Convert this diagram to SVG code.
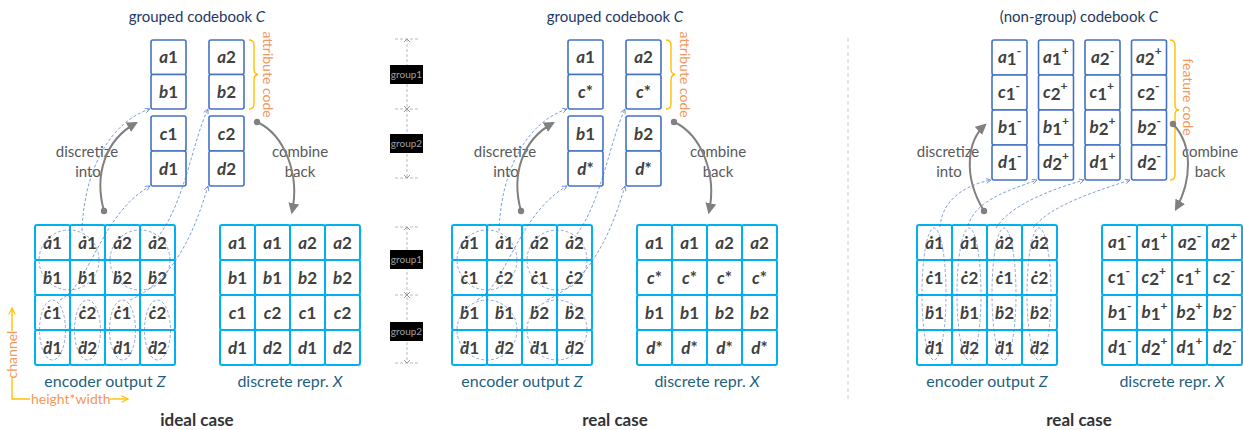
<svg xmlns="http://www.w3.org/2000/svg" width="1243" height="430" viewBox="0 0 1243 430">
<style>
text{font-family:Lato,"Liberation Sans",sans-serif}
.cb{fill:#fff;stroke:#4472C4;stroke-width:1.6}
.gc{fill:#fff;stroke:#00B0F0;stroke-width:2}
.l{font-weight:bold;font-size:17px;fill:#404040;text-anchor:middle}
.ls{font-weight:bold;font-size:17px;fill:#404040}
.s{font-size:12px}
.it{font-style:italic}
.title{font-size:15px;fill:#1F3864;text-anchor:middle}
.cap{font-size:16px;fill:#1F5F7F;text-anchor:middle}
.case{font-size:17px;font-weight:bold;fill:#333;text-anchor:middle}
.gray{font-size:15px;fill:#595959;text-anchor:middle}
.or{font-size:14px;fill:#F4975A;text-anchor:middle}
.orl{font-size:14px;fill:#F4975A}
.conn{fill:none;stroke:#4472C4;stroke-width:0.8;stroke-dasharray:3 2;opacity:0.85}
.ell{fill:none;stroke:#4472C4;stroke-width:0.8;stroke-dasharray:3 2;opacity:0.75}
.arc{fill:none;stroke:#808080;stroke-width:2}
.brace{fill:none;stroke:#FFC000;stroke-width:1.4}
.ax{fill:none;stroke:#FFC000;stroke-width:1.4}
.gl{fill:none;stroke:#BBBBBB;stroke-width:1;stroke-dasharray:3 2}
.gm{fill:none;stroke:#999;stroke-width:1}
.gt{font-size:10px;fill:#A0A0A0;text-anchor:middle}
</style>
<defs>
<marker id="oa" viewBox="0 0 10 10" refX="9" refY="5" markerUnits="userSpaceOnUse" markerWidth="6" markerHeight="6" orient="auto"><path d="M1 1 L9 5 L1 9" fill="none" stroke="#4472C4" stroke-width="1.3"/></marker>
<marker id="ga" viewBox="0 0 10 10" refX="8" refY="5" markerUnits="userSpaceOnUse" markerWidth="11" markerHeight="11" orient="auto"><path d="M0 0 L10 5 L0 10 Z" fill="#808080"/></marker>
<marker id="ya" viewBox="0 0 10 10" refX="9" refY="5" markerUnits="userSpaceOnUse" markerWidth="8" markerHeight="8" orient="auto"><path d="M1 1 L9 5 L1 9" fill="none" stroke="#FFC000" stroke-width="1.4"/></marker>
</defs>

<!-- ================= PANEL 1 ================= -->
<g id="p1-title"><text class="title" x="197" y="22">grouped codebook <tspan class="it">C</tspan></text></g>
<g id="p1-codebook">
<rect class="cb" x="151" y="40" width="35" height="34.5" rx="2"/><text class="l" x="168.5" y="63"><tspan class="it">a</tspan>1</text>
<rect class="cb" x="151" y="74.5" width="35" height="34.5" rx="2"/><text class="l" x="168.5" y="97.5"><tspan class="it">b</tspan>1</text>
<rect class="cb" x="151" y="116" width="35" height="35" rx="2"/><text class="l" x="168.5" y="139.5"><tspan class="it">c</tspan>1</text>
<rect class="cb" x="151" y="151" width="35" height="35" rx="2"/><text class="l" x="168.5" y="174.5"><tspan class="it">d</tspan>1</text>
<rect class="cb" x="209" y="40" width="35" height="34.5" rx="2"/><text class="l" x="226.5" y="63"><tspan class="it">a</tspan>2</text>
<rect class="cb" x="209" y="74.5" width="35" height="34.5" rx="2"/><text class="l" x="226.5" y="97.5"><tspan class="it">b</tspan>2</text>
<rect class="cb" x="209" y="116" width="35" height="35" rx="2"/><text class="l" x="226.5" y="139.5"><tspan class="it">c</tspan>2</text>
<rect class="cb" x="209" y="151" width="35" height="35" rx="2"/><text class="l" x="226.5" y="174.5"><tspan class="it">d</tspan>2</text>
</g>
<g id="p1-brace">
<path class="brace" d="M249 40 Q254 40 254 45 L254 69 Q254 74 258 74.5 Q254 75 254 80 L254 104 Q254 109 249 109"/>
<text class="or" transform="translate(263 74.5) rotate(90)">attribute code</text>
</g>
<g id="p1-encoder">
<rect class="gc" x="35" y="225" width="35" height="35" rx="2"/><rect class="gc" x="70" y="225" width="35" height="35" rx="2"/><rect class="gc" x="105" y="225" width="35" height="35" rx="2"/><rect class="gc" x="140" y="225" width="35" height="35" rx="2"/>
<rect class="gc" x="35" y="260" width="35" height="35" rx="2"/><rect class="gc" x="70" y="260" width="35" height="35" rx="2"/><rect class="gc" x="105" y="260" width="35" height="35" rx="2"/><rect class="gc" x="140" y="260" width="35" height="35" rx="2"/>
<rect class="gc" x="35" y="295" width="35" height="35" rx="2"/><rect class="gc" x="70" y="295" width="35" height="35" rx="2"/><rect class="gc" x="105" y="295" width="35" height="35" rx="2"/><rect class="gc" x="140" y="295" width="35" height="35" rx="2"/>
<rect class="gc" x="35" y="330" width="35" height="35" rx="2"/><rect class="gc" x="70" y="330" width="35" height="35" rx="2"/><rect class="gc" x="105" y="330" width="35" height="35" rx="2"/><rect class="gc" x="140" y="330" width="35" height="35" rx="2"/>
<text class="l" x="52.5" y="248.5"><tspan class="it">ȧ</tspan>1</text><text class="l" x="87.5" y="248.5"><tspan class="it">ȧ</tspan>1</text><text class="l" x="122.5" y="248.5"><tspan class="it">ȧ</tspan>2</text><text class="l" x="157.5" y="248.5"><tspan class="it">ȧ</tspan>2</text>
<text class="l" x="52.5" y="283.5"><tspan class="it">ḃ</tspan>1</text><text class="l" x="87.5" y="283.5"><tspan class="it">ḃ</tspan>1</text><text class="l" x="122.5" y="283.5"><tspan class="it">ḃ</tspan>2</text><text class="l" x="157.5" y="283.5"><tspan class="it">ḃ</tspan>2</text>
<text class="l" x="52.5" y="318.5"><tspan class="it">ċ</tspan>1</text><text class="l" x="87.5" y="318.5"><tspan class="it">ċ</tspan>2</text><text class="l" x="122.5" y="318.5"><tspan class="it">ċ</tspan>1</text><text class="l" x="157.5" y="318.5"><tspan class="it">ċ</tspan>2</text>
<text class="l" x="52.5" y="353.5"><tspan class="it">ḋ</tspan>1</text><text class="l" x="87.5" y="353.5"><tspan class="it">ḋ</tspan>2</text><text class="l" x="122.5" y="353.5"><tspan class="it">ḋ</tspan>1</text><text class="l" x="157.5" y="353.5"><tspan class="it">ḋ</tspan>2</text>
<circle class="ell" cx="69" cy="260" r="30"/><circle class="ell" cx="140" cy="260" r="30"/>
<ellipse class="ell" cx="52.5" cy="330" rx="13" ry="30"/><ellipse class="ell" cx="87.5" cy="330" rx="13" ry="30"/><ellipse class="ell" cx="122.5" cy="330" rx="13" ry="30"/><ellipse class="ell" cx="157.5" cy="330" rx="13" ry="30"/>
<text class="cap" x="105" y="387">encoder output <tspan class="it">Z</tspan></text>
</g>
<g id="p1-discrete">
<rect class="gc" x="220" y="225" width="35" height="35" rx="2"/><rect class="gc" x="255" y="225" width="35" height="35" rx="2"/><rect class="gc" x="290" y="225" width="35" height="35" rx="2"/><rect class="gc" x="325" y="225" width="35" height="35" rx="2"/>
<rect class="gc" x="220" y="260" width="35" height="35" rx="2"/><rect class="gc" x="255" y="260" width="35" height="35" rx="2"/><rect class="gc" x="290" y="260" width="35" height="35" rx="2"/><rect class="gc" x="325" y="260" width="35" height="35" rx="2"/>
<rect class="gc" x="220" y="295" width="35" height="35" rx="2"/><rect class="gc" x="255" y="295" width="35" height="35" rx="2"/><rect class="gc" x="290" y="295" width="35" height="35" rx="2"/><rect class="gc" x="325" y="295" width="35" height="35" rx="2"/>
<rect class="gc" x="220" y="330" width="35" height="35" rx="2"/><rect class="gc" x="255" y="330" width="35" height="35" rx="2"/><rect class="gc" x="290" y="330" width="35" height="35" rx="2"/><rect class="gc" x="325" y="330" width="35" height="35" rx="2"/>
<text class="l" x="237.5" y="248.5"><tspan class="it">a</tspan>1</text><text class="l" x="272.5" y="248.5"><tspan class="it">a</tspan>1</text><text class="l" x="307.5" y="248.5"><tspan class="it">a</tspan>2</text><text class="l" x="342.5" y="248.5"><tspan class="it">a</tspan>2</text>
<text class="l" x="237.5" y="283.5"><tspan class="it">b</tspan>1</text><text class="l" x="272.5" y="283.5"><tspan class="it">b</tspan>1</text><text class="l" x="307.5" y="283.5"><tspan class="it">b</tspan>2</text><text class="l" x="342.5" y="283.5"><tspan class="it">b</tspan>2</text>
<text class="l" x="237.5" y="318.5"><tspan class="it">c</tspan>1</text><text class="l" x="272.5" y="318.5"><tspan class="it">c</tspan>2</text><text class="l" x="307.5" y="318.5"><tspan class="it">c</tspan>1</text><text class="l" x="342.5" y="318.5"><tspan class="it">c</tspan>2</text>
<text class="l" x="237.5" y="353.5"><tspan class="it">d</tspan>1</text><text class="l" x="272.5" y="353.5"><tspan class="it">d</tspan>2</text><text class="l" x="307.5" y="353.5"><tspan class="it">d</tspan>1</text><text class="l" x="342.5" y="353.5"><tspan class="it">d</tspan>2</text>
<text class="cap" x="290" y="387">discrete repr. <tspan class="it">X</tspan></text>
</g>
<g id="p1-labels">
<text class="gray" x="87" y="157">discretize</text><text class="gray" x="88" y="177">into</text>
<text class="gray" x="300" y="157">combine</text><text class="gray" x="300" y="177">back</text>
<text class="case" x="197" y="426">ideal case</text>
</g>
<g id="axes">
<path class="ax" d="M12 378 L12 399 L30 399"/>
<path class="ax" d="M12 331 L12 308" marker-end="url(#ya)"/>
<path class="ax" d="M110 399 L128 399" marker-end="url(#ya)"/>
<text class="orl" text-anchor="middle" transform="translate(17 354.5) rotate(-90)">channel</text>
<text class="orl" x="31" y="404">height*width</text>
</g>

<!-- ================= MIDDLE GROUP INDICATOR ================= -->
<g id="group-indicator">
<path class="gl" d="M407 39 L407 178 M395 39 L419 39 M395 109 L419 109 M395 178 L419 178"/>
<path class="gm" d="M404 42 L407 39 L410 42 M404 106 L410 112 M410 106 L404 112 M404 175 L407 178 L410 175"/>
<rect x="390" y="65" width="33" height="19" fill="#000"/><text class="gt" x="406.5" y="78">group1</text>
<rect x="390" y="134" width="33" height="19" fill="#000"/><text class="gt" x="406.5" y="147">group2</text>
<path class="gl" d="M407 227 L407 363 M395 227 L419 227 M395 295 L419 295 M395 363 L419 363"/>
<path class="gm" d="M404 230 L407 227 L410 230 M404 292 L410 298 M410 292 L404 298 M404 360 L407 363 L410 360"/>
<rect x="390" y="250" width="33" height="19" fill="#000"/><text class="gt" x="406.5" y="263">group1</text>
<rect x="390" y="322" width="33" height="19" fill="#000"/><text class="gt" x="406.5" y="335">group2</text>
</g>

<!-- ================= PANEL 2 ================= -->
<g id="p2-title"><text class="title" x="615" y="22">grouped codebook <tspan class="it">C</tspan></text></g>
<g id="p2-codebook">
<rect class="cb" x="568" y="40" width="35" height="34.5" rx="2"/><text class="l" x="585.5" y="63"><tspan class="it">a</tspan>1</text>
<rect class="cb" x="568" y="74.5" width="35" height="34.5" rx="2"/><text class="l" x="585.5" y="97.5"><tspan class="it">c</tspan>*</text>
<rect class="cb" x="568" y="116" width="35" height="35" rx="2"/><text class="l" x="585.5" y="139.5"><tspan class="it">b</tspan>1</text>
<rect class="cb" x="568" y="151" width="35" height="35" rx="2"/><text class="l" x="585.5" y="174.5"><tspan class="it">d</tspan>*</text>
<rect class="cb" x="626" y="40" width="35" height="34.5" rx="2"/><text class="l" x="643.5" y="63"><tspan class="it">a</tspan>2</text>
<rect class="cb" x="626" y="74.5" width="35" height="34.5" rx="2"/><text class="l" x="643.5" y="97.5"><tspan class="it">c</tspan>*</text>
<rect class="cb" x="626" y="116" width="35" height="35" rx="2"/><text class="l" x="643.5" y="139.5"><tspan class="it">b</tspan>2</text>
<rect class="cb" x="626" y="151" width="35" height="35" rx="2"/><text class="l" x="643.5" y="174.5"><tspan class="it">d</tspan>*</text>
</g>
<g id="p2-brace">
<path class="brace" d="M666 40 Q671 40 671 45 L671 69 Q671 74 675 74.5 Q671 75 671 80 L671 104 Q671 109 666 109"/>
<text class="or" transform="translate(680 74.5) rotate(90)">attribute code</text>
</g>
<g id="p2-encoder">
<rect class="gc" x="452" y="225" width="35" height="35" rx="2"/><rect class="gc" x="487" y="225" width="35" height="35" rx="2"/><rect class="gc" x="522" y="225" width="35" height="35" rx="2"/><rect class="gc" x="557" y="225" width="35" height="35" rx="2"/>
<rect class="gc" x="452" y="260" width="35" height="35" rx="2"/><rect class="gc" x="487" y="260" width="35" height="35" rx="2"/><rect class="gc" x="522" y="260" width="35" height="35" rx="2"/><rect class="gc" x="557" y="260" width="35" height="35" rx="2"/>
<rect class="gc" x="452" y="295" width="35" height="35" rx="2"/><rect class="gc" x="487" y="295" width="35" height="35" rx="2"/><rect class="gc" x="522" y="295" width="35" height="35" rx="2"/><rect class="gc" x="557" y="295" width="35" height="35" rx="2"/>
<rect class="gc" x="452" y="330" width="35" height="35" rx="2"/><rect class="gc" x="487" y="330" width="35" height="35" rx="2"/><rect class="gc" x="522" y="330" width="35" height="35" rx="2"/><rect class="gc" x="557" y="330" width="35" height="35" rx="2"/>
<text class="l" x="469.5" y="248.5"><tspan class="it">ȧ</tspan>1</text><text class="l" x="504.5" y="248.5"><tspan class="it">ȧ</tspan>1</text><text class="l" x="539.5" y="248.5"><tspan class="it">ȧ</tspan>2</text><text class="l" x="574.5" y="248.5"><tspan class="it">ȧ</tspan>2</text>
<text class="l" x="469.5" y="283.5"><tspan class="it">ċ</tspan>1</text><text class="l" x="504.5" y="283.5"><tspan class="it">ċ</tspan>2</text><text class="l" x="539.5" y="283.5"><tspan class="it">ċ</tspan>1</text><text class="l" x="574.5" y="283.5"><tspan class="it">ċ</tspan>2</text>
<text class="l" x="469.5" y="318.5"><tspan class="it">ḃ</tspan>1</text><text class="l" x="504.5" y="318.5"><tspan class="it">ḃ</tspan>1</text><text class="l" x="539.5" y="318.5"><tspan class="it">ḃ</tspan>2</text><text class="l" x="574.5" y="318.5"><tspan class="it">ḃ</tspan>2</text>
<text class="l" x="469.5" y="353.5"><tspan class="it">ḋ</tspan>1</text><text class="l" x="504.5" y="353.5"><tspan class="it">ḋ</tspan>2</text><text class="l" x="539.5" y="353.5"><tspan class="it">ḋ</tspan>1</text><text class="l" x="574.5" y="353.5"><tspan class="it">ḋ</tspan>2</text>
<circle class="ell" cx="487" cy="260" r="30"/><circle class="ell" cx="557" cy="260" r="30"/>
<circle class="ell" cx="487" cy="330" r="30"/><circle class="ell" cx="557" cy="330" r="30"/>
<text class="cap" x="522" y="387">encoder output <tspan class="it">Z</tspan></text>
</g>
<g id="p2-discrete">
<rect class="gc" x="637" y="225" width="35" height="35" rx="2"/><rect class="gc" x="672" y="225" width="35" height="35" rx="2"/><rect class="gc" x="707" y="225" width="35" height="35" rx="2"/><rect class="gc" x="742" y="225" width="35" height="35" rx="2"/>
<rect class="gc" x="637" y="260" width="35" height="35" rx="2"/><rect class="gc" x="672" y="260" width="35" height="35" rx="2"/><rect class="gc" x="707" y="260" width="35" height="35" rx="2"/><rect class="gc" x="742" y="260" width="35" height="35" rx="2"/>
<rect class="gc" x="637" y="295" width="35" height="35" rx="2"/><rect class="gc" x="672" y="295" width="35" height="35" rx="2"/><rect class="gc" x="707" y="295" width="35" height="35" rx="2"/><rect class="gc" x="742" y="295" width="35" height="35" rx="2"/>
<rect class="gc" x="637" y="330" width="35" height="35" rx="2"/><rect class="gc" x="672" y="330" width="35" height="35" rx="2"/><rect class="gc" x="707" y="330" width="35" height="35" rx="2"/><rect class="gc" x="742" y="330" width="35" height="35" rx="2"/>
<text class="l" x="654.5" y="248.5"><tspan class="it">a</tspan>1</text><text class="l" x="689.5" y="248.5"><tspan class="it">a</tspan>1</text><text class="l" x="724.5" y="248.5"><tspan class="it">a</tspan>2</text><text class="l" x="759.5" y="248.5"><tspan class="it">a</tspan>2</text>
<text class="l" x="654.5" y="283.5"><tspan class="it">c</tspan>*</text><text class="l" x="689.5" y="283.5"><tspan class="it">c</tspan>*</text><text class="l" x="724.5" y="283.5"><tspan class="it">c</tspan>*</text><text class="l" x="759.5" y="283.5"><tspan class="it">c</tspan>*</text>
<text class="l" x="654.5" y="318.5"><tspan class="it">b</tspan>1</text><text class="l" x="689.5" y="318.5"><tspan class="it">b</tspan>1</text><text class="l" x="724.5" y="318.5"><tspan class="it">b</tspan>2</text><text class="l" x="759.5" y="318.5"><tspan class="it">b</tspan>2</text>
<text class="l" x="654.5" y="353.5"><tspan class="it">d</tspan>*</text><text class="l" x="689.5" y="353.5"><tspan class="it">d</tspan>*</text><text class="l" x="724.5" y="353.5"><tspan class="it">d</tspan>*</text><text class="l" x="759.5" y="353.5"><tspan class="it">d</tspan>*</text>
<text class="cap" x="707" y="387">discrete repr. <tspan class="it">X</tspan></text>
</g>
<g id="p2-labels">
<text class="gray" x="505" y="157">discretize</text><text class="gray" x="506" y="177">into</text>
<text class="gray" x="718" y="157">combine</text><text class="gray" x="718" y="177">back</text>
<text class="case" x="615" y="426">real case</text>
</g>

<!-- separator -->
<g id="separator"><path d="M848 38 L848 400" fill="none" stroke="#CCCCCC" stroke-width="1" stroke-dasharray="4 3"/></g>

<!-- ================= PANEL 3 ================= -->
<g id="p3-title"><text class="title" x="1079" y="22">(non-group) codebook <tspan class="it">C</tspan></text></g>
<g id="p3-codebook">
<rect class="cb" x="992" y="40" width="35" height="35" rx="2"/><rect class="cb" x="1038.5" y="40" width="35" height="35" rx="2"/><rect class="cb" x="1085" y="40" width="35" height="35" rx="2"/><rect class="cb" x="1131.5" y="40" width="35" height="35" rx="2"/>
<rect class="cb" x="992" y="75" width="35" height="35" rx="2"/><rect class="cb" x="1038.5" y="75" width="35" height="35" rx="2"/><rect class="cb" x="1085" y="75" width="35" height="35" rx="2"/><rect class="cb" x="1131.5" y="75" width="35" height="35" rx="2"/>
<rect class="cb" x="992" y="110" width="35" height="35" rx="2"/><rect class="cb" x="1038.5" y="110" width="35" height="35" rx="2"/><rect class="cb" x="1085" y="110" width="35" height="35" rx="2"/><rect class="cb" x="1131.5" y="110" width="35" height="35" rx="2"/>
<rect class="cb" x="992" y="145" width="35" height="35" rx="2"/><rect class="cb" x="1038.5" y="145" width="35" height="35" rx="2"/><rect class="cb" x="1085" y="145" width="35" height="35" rx="2"/><rect class="cb" x="1131.5" y="145" width="35" height="35" rx="2"/>
<text class="ls" x="998" y="63"><tspan class="it">a</tspan><tspan dy="2">1</tspan><tspan class="s" dy="-10">-</tspan></text>
<text class="ls" x="1043" y="63"><tspan class="it">a</tspan><tspan dy="2">1</tspan><tspan class="s" dy="-10">+</tspan></text>
<text class="ls" x="1091" y="63"><tspan class="it">a</tspan><tspan dy="2">2</tspan><tspan class="s" dy="-10">-</tspan></text>
<text class="ls" x="1136" y="63"><tspan class="it">a</tspan><tspan dy="2">2</tspan><tspan class="s" dy="-10">+</tspan></text>
<text class="ls" x="998" y="98"><tspan class="it">c</tspan><tspan dy="2">1</tspan><tspan class="s" dy="-10">-</tspan></text>
<text class="ls" x="1043" y="98"><tspan class="it">c</tspan><tspan dy="2">2</tspan><tspan class="s" dy="-10">+</tspan></text>
<text class="ls" x="1089.5" y="98"><tspan class="it">c</tspan><tspan dy="2">1</tspan><tspan class="s" dy="-10">+</tspan></text>
<text class="ls" x="1137.5" y="98"><tspan class="it">c</tspan><tspan dy="2">2</tspan><tspan class="s" dy="-10">-</tspan></text>
<text class="ls" x="998" y="133"><tspan class="it">b</tspan><tspan dy="2">1</tspan><tspan class="s" dy="-10">-</tspan></text>
<text class="ls" x="1043" y="133"><tspan class="it">b</tspan><tspan dy="2">1</tspan><tspan class="s" dy="-10">+</tspan></text>
<text class="ls" x="1089.5" y="133"><tspan class="it">b</tspan><tspan dy="2">2</tspan><tspan class="s" dy="-10">+</tspan></text>
<text class="ls" x="1137.5" y="133"><tspan class="it">b</tspan><tspan dy="2">2</tspan><tspan class="s" dy="-10">-</tspan></text>
<text class="ls" x="998" y="168"><tspan class="it">d</tspan><tspan dy="2">1</tspan><tspan class="s" dy="-10">-</tspan></text>
<text class="ls" x="1043" y="168"><tspan class="it">d</tspan><tspan dy="2">2</tspan><tspan class="s" dy="-10">+</tspan></text>
<text class="ls" x="1089.5" y="168"><tspan class="it">d</tspan><tspan dy="2">1</tspan><tspan class="s" dy="-10">+</tspan></text>
<text class="ls" x="1137.5" y="168"><tspan class="it">d</tspan><tspan dy="2">2</tspan><tspan class="s" dy="-10">-</tspan></text>
</g>
<g id="p3-brace">
<path class="brace" d="M1170 40 Q1175 40 1175 45 L1175 105 Q1175 110 1179 110 Q1175 110 1175 115 L1175 175 Q1175 180 1170 180"/>
<text class="or" transform="translate(1183 97) rotate(90)">feature code</text>
</g>
<g id="p3-encoder">
<rect class="gc" x="917" y="225" width="35" height="35" rx="2"/><rect class="gc" x="952" y="225" width="35" height="35" rx="2"/><rect class="gc" x="987" y="225" width="35" height="35" rx="2"/><rect class="gc" x="1022" y="225" width="35" height="35" rx="2"/>
<rect class="gc" x="917" y="260" width="35" height="35" rx="2"/><rect class="gc" x="952" y="260" width="35" height="35" rx="2"/><rect class="gc" x="987" y="260" width="35" height="35" rx="2"/><rect class="gc" x="1022" y="260" width="35" height="35" rx="2"/>
<rect class="gc" x="917" y="295" width="35" height="35" rx="2"/><rect class="gc" x="952" y="295" width="35" height="35" rx="2"/><rect class="gc" x="987" y="295" width="35" height="35" rx="2"/><rect class="gc" x="1022" y="295" width="35" height="35" rx="2"/>
<rect class="gc" x="917" y="330" width="35" height="35" rx="2"/><rect class="gc" x="952" y="330" width="35" height="35" rx="2"/><rect class="gc" x="987" y="330" width="35" height="35" rx="2"/><rect class="gc" x="1022" y="330" width="35" height="35" rx="2"/>
<text class="l" x="934.5" y="248.5"><tspan class="it">ȧ</tspan>1</text><text class="l" x="969.5" y="248.5"><tspan class="it">ȧ</tspan>1</text><text class="l" x="1004.5" y="248.5"><tspan class="it">ȧ</tspan>2</text><text class="l" x="1039.5" y="248.5"><tspan class="it">ȧ</tspan>2</text>
<text class="l" x="934.5" y="283.5"><tspan class="it">ċ</tspan>1</text><text class="l" x="969.5" y="283.5"><tspan class="it">ċ</tspan>2</text><text class="l" x="1004.5" y="283.5"><tspan class="it">ċ</tspan>1</text><text class="l" x="1039.5" y="283.5"><tspan class="it">ċ</tspan>2</text>
<text class="l" x="934.5" y="318.5"><tspan class="it">ḃ</tspan>1</text><text class="l" x="969.5" y="318.5"><tspan class="it">ḃ</tspan>1</text><text class="l" x="1004.5" y="318.5"><tspan class="it">ḃ</tspan>2</text><text class="l" x="1039.5" y="318.5"><tspan class="it">ḃ</tspan>2</text>
<text class="l" x="934.5" y="353.5"><tspan class="it">ḋ</tspan>1</text><text class="l" x="969.5" y="353.5"><tspan class="it">ḋ</tspan>2</text><text class="l" x="1004.5" y="353.5"><tspan class="it">ḋ</tspan>1</text><text class="l" x="1039.5" y="353.5"><tspan class="it">ḋ</tspan>2</text>
<ellipse class="ell" cx="934" cy="294" rx="12" ry="66"/><ellipse class="ell" cx="969" cy="294" rx="12" ry="66"/><ellipse class="ell" cx="1004" cy="294" rx="12" ry="66"/><ellipse class="ell" cx="1039" cy="294" rx="12" ry="66"/>
<text class="cap" x="987" y="387">encoder output <tspan class="it">Z</tspan></text>
</g>
<g id="p3-discrete">
<rect class="gc" x="1102" y="225" width="35" height="35" rx="2"/><rect class="gc" x="1137" y="225" width="35" height="35" rx="2"/><rect class="gc" x="1172" y="225" width="35" height="35" rx="2"/><rect class="gc" x="1207" y="225" width="35" height="35" rx="2"/>
<rect class="gc" x="1102" y="260" width="35" height="35" rx="2"/><rect class="gc" x="1137" y="260" width="35" height="35" rx="2"/><rect class="gc" x="1172" y="260" width="35" height="35" rx="2"/><rect class="gc" x="1207" y="260" width="35" height="35" rx="2"/>
<rect class="gc" x="1102" y="295" width="35" height="35" rx="2"/><rect class="gc" x="1137" y="295" width="35" height="35" rx="2"/><rect class="gc" x="1172" y="295" width="35" height="35" rx="2"/><rect class="gc" x="1207" y="295" width="35" height="35" rx="2"/>
<rect class="gc" x="1102" y="330" width="35" height="35" rx="2"/><rect class="gc" x="1137" y="330" width="35" height="35" rx="2"/><rect class="gc" x="1172" y="330" width="35" height="35" rx="2"/><rect class="gc" x="1207" y="330" width="35" height="35" rx="2"/>
<text class="ls" x="1108" y="248"><tspan class="it">a</tspan><tspan dy="2">1</tspan><tspan class="s" dy="-10">-</tspan></text>
<text class="ls" x="1141.5" y="248"><tspan class="it">a</tspan><tspan dy="2">1</tspan><tspan class="s" dy="-10">+</tspan></text>
<text class="ls" x="1178" y="248"><tspan class="it">a</tspan><tspan dy="2">2</tspan><tspan class="s" dy="-10">-</tspan></text>
<text class="ls" x="1211.5" y="248"><tspan class="it">a</tspan><tspan dy="2">2</tspan><tspan class="s" dy="-10">+</tspan></text>
<text class="ls" x="1108" y="283"><tspan class="it">c</tspan><tspan dy="2">1</tspan><tspan class="s" dy="-10">-</tspan></text>
<text class="ls" x="1141.5" y="283"><tspan class="it">c</tspan><tspan dy="2">2</tspan><tspan class="s" dy="-10">+</tspan></text>
<text class="ls" x="1176.5" y="283"><tspan class="it">c</tspan><tspan dy="2">1</tspan><tspan class="s" dy="-10">+</tspan></text>
<text class="ls" x="1213" y="283"><tspan class="it">c</tspan><tspan dy="2">2</tspan><tspan class="s" dy="-10">-</tspan></text>
<text class="ls" x="1108" y="318"><tspan class="it">b</tspan><tspan dy="2">1</tspan><tspan class="s" dy="-10">-</tspan></text>
<text class="ls" x="1141.5" y="318"><tspan class="it">b</tspan><tspan dy="2">1</tspan><tspan class="s" dy="-10">+</tspan></text>
<text class="ls" x="1176.5" y="318"><tspan class="it">b</tspan><tspan dy="2">2</tspan><tspan class="s" dy="-10">+</tspan></text>
<text class="ls" x="1213" y="318"><tspan class="it">b</tspan><tspan dy="2">2</tspan><tspan class="s" dy="-10">-</tspan></text>
<text class="ls" x="1108" y="353"><tspan class="it">d</tspan><tspan dy="2">1</tspan><tspan class="s" dy="-10">-</tspan></text>
<text class="ls" x="1141.5" y="353"><tspan class="it">d</tspan><tspan dy="2">2</tspan><tspan class="s" dy="-10">+</tspan></text>
<text class="ls" x="1176.5" y="353"><tspan class="it">d</tspan><tspan dy="2">1</tspan><tspan class="s" dy="-10">+</tspan></text>
<text class="ls" x="1213" y="353"><tspan class="it">d</tspan><tspan dy="2">2</tspan><tspan class="s" dy="-10">-</tspan></text>
<text class="cap" x="1172" y="387">discrete repr. <tspan class="it">X</tspan></text>
</g>
<g id="p3-labels">
<text class="gray" x="948" y="157">discretize</text><text class="gray" x="949" y="177">into</text>
<text class="gray" x="1210" y="157">combine</text><text class="gray" x="1210" y="177">back</text>
<text class="case" x="1079" y="426">real case</text>
</g>

<!-- ================= CONNECTORS ================= -->
<g id="connectors">
<path class="conn" d="M82 231 C84 170 110 122 150 109" marker-end="url(#oa)"/>
<path class="conn" d="M60 300 C90 285 100 215 150 186" marker-end="url(#oa)"/>
<path class="conn" d="M160 234 C185 200 193 140 208 109" marker-end="url(#oa)"/>
<path class="conn" d="M130 300 C175 280 195 230 208 186" marker-end="url(#oa)"/>
<path class="arc" d="M104 211 C94 175 105 140 136 123" marker-end="url(#ga)"/>
<circle cx="104" cy="211" r="3.2" fill="#808080"/>
<path class="arc" d="M257 122 C285 135 300 175 292 212" marker-end="url(#ga)"/>
<circle cx="257" cy="122" r="3.2" fill="#808080"/>
<path class="conn" d="M499 231 C501 170 527 122 567 109" marker-end="url(#oa)"/>
<path class="conn" d="M477 300 C507 285 517 215 567 186" marker-end="url(#oa)"/>
<path class="conn" d="M577 234 C602 200 610 140 625 109" marker-end="url(#oa)"/>
<path class="conn" d="M547 300 C592 280 612 230 625 186" marker-end="url(#oa)"/>
<path class="arc" d="M521 211 C511 175 522 140 553 123" marker-end="url(#ga)"/>
<circle cx="521" cy="211" r="3.2" fill="#808080"/>
<path class="arc" d="M674 122 C702 135 717 175 709 212" marker-end="url(#ga)"/>
<circle cx="674" cy="122" r="3.2" fill="#808080"/>
<path class="conn" d="M940 227 C942 200 965 185 991 180" marker-end="url(#oa)"/>
<path class="conn" d="M968 226 C975 200 1010 190 1037 180" marker-end="url(#oa)"/>
<path class="conn" d="M996 228 C1010 205 1050 190 1084 180" marker-end="url(#oa)"/>
<path class="conn" d="M1033 228 C1050 205 1100 190 1130 180" marker-end="url(#oa)"/>
<path class="arc" d="M984 211 C962 175 968 140 985 125" marker-end="url(#ga)"/>
<circle cx="984" cy="211" r="3.2" fill="#808080"/>
<path class="arc" d="M1173 124 C1193 145 1192 180 1176 209" marker-end="url(#ga)"/>
<circle cx="1173" cy="124" r="3.2" fill="#808080"/>
</g>
</svg>
